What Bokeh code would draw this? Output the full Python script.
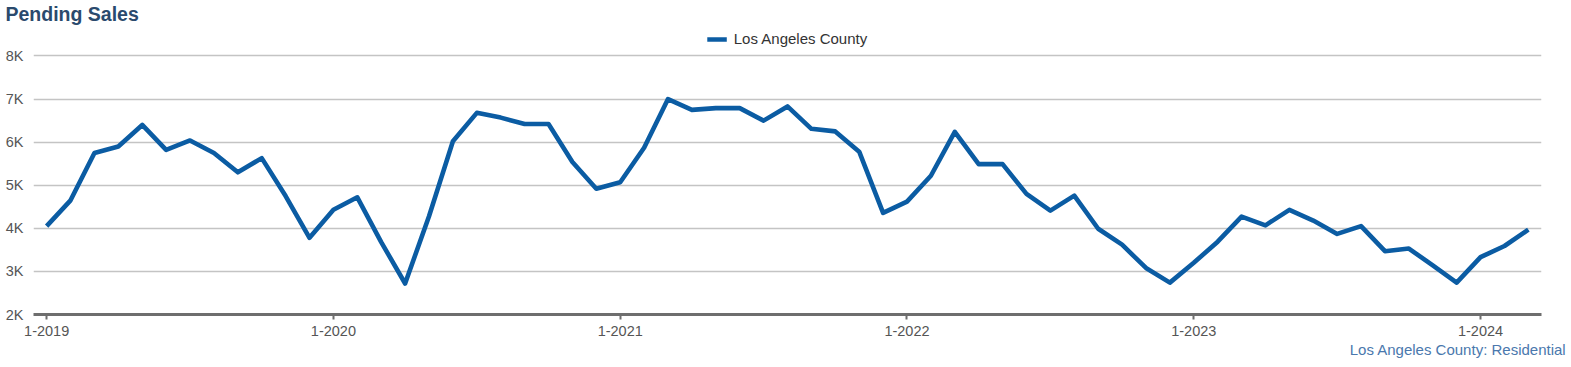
from bokeh.plotting import figure
from bokeh.models import Range1d, Legend, LegendItem, Title, FixedTicker
from bokeh.embed import file_html
from bokeh.resources import INLINE

# ---- data ----
months = list(range(63))  # Jan 2019 .. Mar 2024, month index
pending_sales = [
    4050, 4650, 5750, 5900, 6400, 5820, 6040, 5750, 5300, 5630, 4750, 3780,   # 2019
    4430, 4720, 3680, 2720, 4280, 6020, 6680, 6570, 6420, 6420, 5540, 4920,   # 2020
    5070, 5870, 7000, 6750, 6790, 6790, 6500, 6830, 6310, 6250, 5780, 4360,   # 2021
    4620, 5220, 6240, 5490, 5490, 4800, 4410, 4760, 3990, 3620, 3080, 2740,   # 2022
    3200, 3690, 4270, 4070, 4430, 4180, 3870, 4050, 3470, 3530, 3140, 2740,   # 2023
    3330, 3590, 3970,                                                         # 2024
]
x_ticks = [0, 12, 24, 36, 48, 60]
x_tick_labels = ["1-2019", "1-2020", "1-2021", "1-2022", "1-2023", "1-2024"]
y_ticks = [2000, 3000, 4000, 5000, 6000, 7000, 8000]
y_tick_labels = ["2K", "3K", "4K", "5K", "6K", "7K", "8K"]
series_name = "Los Angeles County"
title_text = "Pending Sales"
footer_text = "Los Angeles County: Residential"

FONT = "Liberation Sans"
LINE_COLOR = "#0b5ca3"

# y range extends above 8K so the legend has room inside the frame
p = figure(width=1571, height=367, output_backend="svg", toolbar_location=None,
           x_range=Range1d(-0.55, 62.55), y_range=Range1d(2000, 8731),
           min_border_left=33, min_border_right=30, min_border_top=24, min_border_bottom=53)
p.outline_line_color = None
p.background_fill_color = "white"
p.border_fill_color = "white"

r = p.line(months, pending_sales, line_color=LINE_COLOR, line_width=4.6, line_join="round")

# axes
p.xaxis.ticker = FixedTicker(ticks=x_ticks)
p.xaxis.major_label_overrides = dict(zip(x_ticks, x_tick_labels))
p.xaxis.axis_line_color = "#6e6e6e"
p.xaxis.axis_line_width = 3
p.xaxis.major_tick_line_color = "#6e6e6e"
p.xaxis.major_tick_line_width = 2
p.xaxis.major_tick_in = 0
p.xaxis.major_tick_out = 5
p.xaxis.minor_tick_line_color = None
p.xaxis.major_label_text_font = FONT
p.xaxis.major_label_text_font_size = "14.5px"
p.xaxis.major_label_text_color = "#555555"
p.xaxis.major_label_standoff = 6

p.yaxis.ticker = FixedTicker(ticks=y_ticks)
p.yaxis.major_label_overrides = dict(zip(y_ticks, y_tick_labels))
p.yaxis.axis_line_color = None
p.yaxis.major_tick_line_color = None
p.yaxis.major_tick_out = 0
p.yaxis.major_tick_in = 0
p.yaxis.minor_tick_line_color = None
p.yaxis.major_label_text_font = FONT
p.yaxis.major_label_text_font_size = "14.5px"
p.yaxis.major_label_text_color = "#555555"
p.yaxis.major_label_standoff = 10

p.xgrid.grid_line_color = None
p.ygrid.ticker = FixedTicker(ticks=y_ticks)
p.ygrid.grid_line_color = "#c4c4c4"
p.ygrid.grid_line_width = 1.3

# legend at the top of the frame, above the 8K line
legend = Legend(items=[LegendItem(label=series_name, renderers=[r])],
                location="top_center", orientation="horizontal",
                border_line_color=None, background_fill_alpha=0,
                label_text_font=FONT, label_text_font_size="15px", label_text_color="#333333",
                glyph_width=20, glyph_height=16, label_height=16, label_standoff=7,
                padding=2, margin=6)
p.add_layout(legend, "center")

# title
p.title.text = title_text
p.title.text_font = FONT
p.title.text_font_size = "19.5px"
p.title.text_font_style = "bold"
p.title.text_color = "#2a4a6d"
p.title.align = "left"
p.title.offset = -28
p.title.standoff = 0

# footer
footer = Title(text=footer_text, align="right", text_font=FONT, text_font_size="15px",
               text_font_style="normal", text_color="#4a78ad", offset=-25, standoff=0)
p.add_layout(footer, "below")

open("out.html", "w").write(file_html(p, INLINE))
